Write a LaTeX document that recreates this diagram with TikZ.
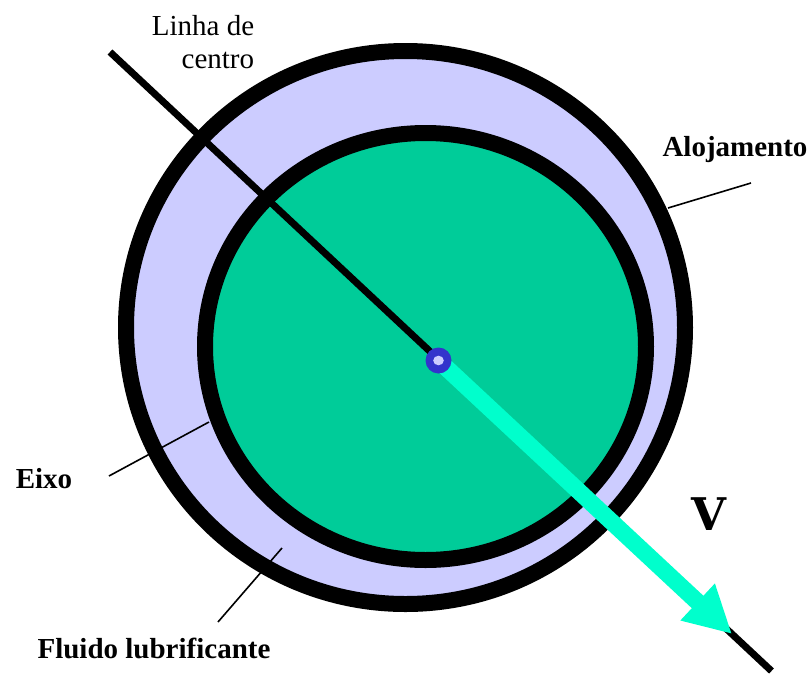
\documentclass[tikz,border=0pt]{standalone}
\usepackage{fontspec}
\setmainfont{Liberation Serif}
\newfontfamily\speedfont{DejaVu Serif}
\usepackage{xcolor}
\usetikzlibrary{arrows.meta, positioning}
\definecolor{fluidcolor}{HTML}{CCCCFF}
\definecolor{shaftcolor}{HTML}{00CC99}
\definecolor{speedcolor}{HTML}{00FFCC}
\definecolor{hubcolor}{HTML}{3333CC}

\begin{document}
\begin{tikzpicture}[
  x=1pt, y=-1pt,
  wall/.style={draw=black, line width=16pt},
  leader/.style={draw=black, line width=1.6pt},
  centerline/.style={draw=black, line width=7pt},
  speed/.style={draw=speedcolor, line width=17pt, -{Triangle[length=47pt, width=47pt, fill=speedcolor]}},
  label/.style={font=\fontsize{29}{33}\selectfont, align=right, inner sep=0pt},
  boldlabel/.style={font=\fontsize{29}{33}\selectfont\bfseries, anchor=base, inner sep=0pt}
]
\useasboundingbox (0,0) rectangle (812,673);
\fill[white] (0,0) rectangle (812,673);

\draw[wall, fill=fluidcolor] (405.5,327.5) ellipse [x radius=279.5, y radius=276.5];

% leaders that cross the outer wall
\coordinate (eixoA) at (109,476);
\coordinate (eixoB) at (209,422);
\coordinate (fluidoA) at (218,622);
\coordinate (fluidoB) at (282,548);
\coordinate (alojA) at (751,183);
\coordinate (alojB) at (668,208);
\draw[leader] (eixoA) -- (eixoB);
\draw[leader] (fluidoA) -- (fluidoB);
\draw[leader] (alojA) -- (alojB);

\draw[wall, fill=shaftcolor] (425.5,346.5) ellipse [x radius=220.5, y radius=213.5];

\coordinate (lineStart) at (110,52);
\coordinate (lineEnd) at (771.5,671);
\coordinate (hub) at (438.5,360.5);
\coordinate (speedTip) at (732,634);
\draw[centerline] (lineStart) -- (lineEnd);
\draw[speed] (hub) -- (speedTip);

\fill[hubcolor] (hub) circle (13);
\fill[fluidcolor] (hub) ellipse [x radius=5.3, y radius=4.8];

\node[label] (linha) at (203,42.5) {Linha de\\centro};
\node[boldlabel] (alojamento) at (735,156) {Alojamento};
\node[boldlabel] (eixo) at (44,488) {Eixo};
\node[boldlabel] (fluido) at (154,658) {Fluido lubrificante};
\node[anchor=base, inner sep=0pt, font=\fontsize{45}{45}\speedfont\bfseries] (v) at (708.5,530) {V};
\end{tikzpicture}
\end{document}
